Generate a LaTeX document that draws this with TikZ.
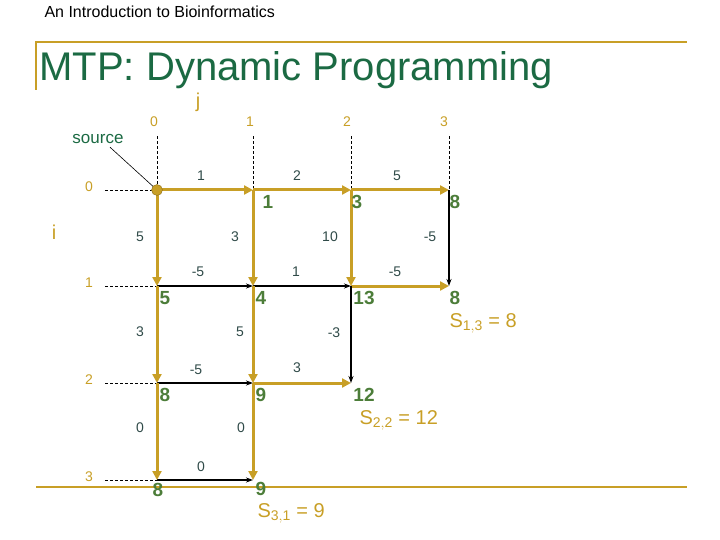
\documentclass[tikz,border=0pt]{standalone}
\usepackage{fontspec}
\setmainfont{Liberation Sans}
\usetikzlibrary{arrows.meta}
\definecolor{gold}{HTML}{C89F26}
\definecolor{ttl}{HTML}{1B6A43}
\definecolor{val}{HTML}{4C7D39}
\definecolor{wt}{HTML}{2F4A48}
\begin{document}
\begin{tikzpicture}[x=1pt,y=-1pt,
  ge/.style={gold,line width=3pt,-{Triangle[length=9pt,width=9pt]}},
  be/.style={black,line width=1.3pt,-{Stealth[length=7pt,width=5pt]}},
  ws/.style={text=wt,font=\fontsize{14}{16}\selectfont},
  vs/.style={text=val,font=\bfseries\fontsize{19}{21}\selectfont},
  ls/.style={text=gold,font=\fontsize{14}{16}\selectfont},
  ss/.style={text=gold,font=\fontsize{20}{22}\selectfont},
  dl/.style={black,densely dashed,line width=0.6pt}]
\useasboundingbox (0,0) rectangle (720,540);
\node[anchor=west,font=\fontsize{16}{18}\selectfont] (hdr) at (41,12) {An Introduction to Bioinformatics};
\draw[gold,line width=2.5pt] (36,90) coordinate (tl0) -- (36,42) coordinate (tl1) -- (687,42) coordinate (tl2);
\draw[gold,line width=2.5pt] (36,487) coordinate (bl0) -- (687,487) coordinate (bl1);
\node[anchor=west,text=ttl,font=\fontsize{40}{44}\selectfont] (title) at (36,70) {MTP: Dynamic Programming};
\foreach \c/\x in {0/157,1/253,2/351,3/449}{
  \foreach \r/\y in {0/190,1/286,2/383,3/480}{
    \coordinate (n\r\c) at (\x,\y);}}
\node[ls,font=\fontsize{20}{22}\selectfont] (jl) at (198,102) {j};
\node[ls,font=\fontsize{20}{22}\selectfont] (il) at (54,232) {i};
\foreach \c/\x in {0/154,1/250,2/347,3/444}{
  \node[ls] (c\c) at (\x,122) {\c};
  \draw[dl] (c\c.south -| n0\c) ++(0,6) -- (n0\c);}
\foreach \r/\y in {0/187,1/283,2/380,3/477}{
  \node[ls] (r\r) at (89,\y) {\r};
  \coordinate (rs\r) at (105,\y+3);
  \draw[dl] (rs\r) -- (n\r0);}
\draw[ge] (n00) -- (n01); \draw[ge] (n01) -- (n02); \draw[ge] (n02) -- (n03);
\draw[be] (n10) -- (n11); \draw[be] (n11) -- (n12); \draw[ge] (n12) -- (n13);
\draw[be] (n20) -- (n21); \draw[ge] (n21) -- (n22);
\draw[be] (n30) -- (n31);
\draw[ge] (n00) -- (n10); \draw[ge] (n10) -- (n20); \draw[ge] (n20) -- (n30);
\draw[ge] (n01) -- (n11); \draw[ge] (n11) -- (n21); \draw[ge] (n21) -- (n31);
\draw[ge] (n02) -- (n12); \draw[be] (n12) -- (n22);
\draw[be] (n03) -- (n13);
\node[text=ttl,font=\fontsize{17}{19}\selectfont] (src) at (98,139) {source};
\draw[black,line width=0.6pt] (src.south) ++(12,0) -- (n00);
\node[circle,fill=gold,draw=gold!70!black,inner sep=0pt,minimum size=11pt] (s) at (n00) {};
\node[ws] (w1) at (201,176) {1}; \node[ws] (w2) at (297,176) {2}; \node[ws] (w3) at (397,176) {5};
\node[ws] (w4) at (198,272) {-5}; \node[ws] (w5) at (296,272) {1}; \node[ws] (w6) at (395,272) {-5};
\node[ws] (w7) at (196,370) {-5}; \node[ws] (w8) at (297,368) {3};
\node[ws] (w9) at (201,467) {0};
\node[ws] (v1) at (140,237) {5}; \node[ws] (v2) at (140,332) {3}; \node[ws] (v3) at (140,428) {0};
\node[ws] (v4) at (235,237) {3}; \node[ws] (v5) at (240,332) {5}; \node[ws] (v6) at (241,428) {0};
\node[ws] (v7) at (330,237) {10}; \node[ws] (v8) at (334,333) {-3};
\node[ws] (v9) at (430,237) {-5};
\node[vs] (a1) at (268,202) {1}; \node[vs] (a2) at (357,202) {3}; \node[vs] (a3) at (455,202) {8};
\node[vs] (b0) at (165,298) {5}; \node[vs] (b1) at (261,298) {4}; \node[vs] (b2) at (364,298) {13}; \node[vs] (b3) at (455,298) {8};
\node[vs] (c0) at (165,395) {8}; \node[vs] (c1) at (261,395) {9}; \node[vs] (c2) at (364,395) {12};
\node[vs] (d0) at (158,490) {8}; \node[vs] (d1) at (261,489) {9};
\node[ss,anchor=west] (s13) at (446,323) {S$_{\mathrm{1,3}}$ = 8};
\node[ss,anchor=west] (s22) at (356,420) {S$_{\mathrm{2,2}}$ = 12};
\node[ss,anchor=west] (s31) at (254,513) {S$_{\mathrm{3,1}}$ = 9};
\end{tikzpicture}
\end{document}
